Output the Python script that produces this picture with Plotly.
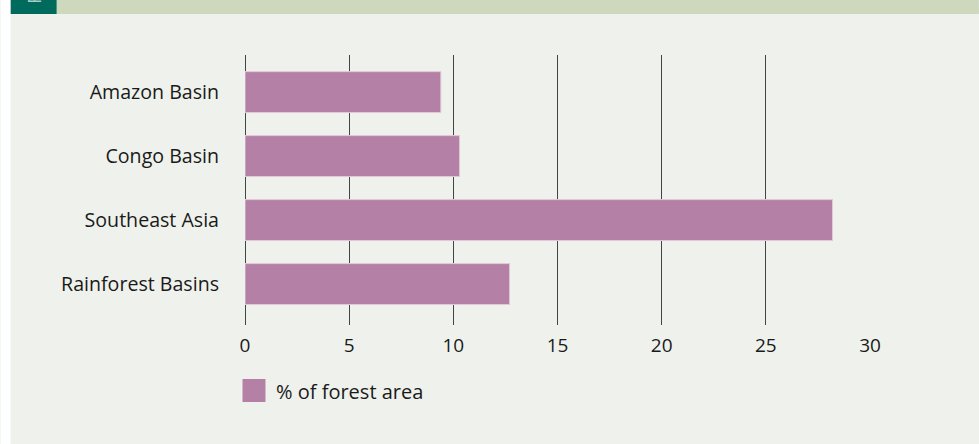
import plotly.graph_objects as go

regions = ["Amazon Basin", "Congo Basin", "Southeast Asia", "Rainforest Basins"]
forest_pct = [9.4, 10.3, 28.2, 12.7]
x_ticks = [0, 5, 10, 15, 20, 25, 30]
legend_label = "% of forest area"

W, H = 979, 444
L, R, T, B = 244.5, 870, 55, 325

def px(x):
    return (x - L) / (R - L)

def py(y):
    return (B - y) / (B - T)

BG = "#EFF2EC"
BAR = "#B580A5"
FONT = "Open Sans"

fig = go.Figure()
fig.add_trace(go.Bar(
    y=regions, x=forest_pct, orientation="h",
    marker=dict(color=BAR, line=dict(color="#E2C8DA", width=1)),
    width=0.64, showlegend=False, hoverinfo="x+y",
))

shapes = [
    dict(type="rect", xref="paper", yref="paper", x0=px(0), x1=px(10), y0=py(H), y1=py(0),
         fillcolor="white", line=dict(width=0), layer="below"),
    dict(type="rect", xref="paper", yref="paper", x0=px(56), x1=px(W), y0=py(14), y1=py(0),
         fillcolor="#CED8BD", line=dict(width=0), layer="below"),
    dict(type="rect", xref="paper", yref="paper", x0=px(10), x1=px(56), y0=py(14), y1=py(0),
         fillcolor="#006A5C", line=dict(width=0), layer="below"),
    dict(type="rect", xref="paper", yref="paper", x0=px(242), x1=px(265), y0=py(402), y1=py(379),
         fillcolor=BAR, line=dict(width=0)),
]

annotations = [
    dict(text="F", xref="paper", yref="paper", x=px(33), y=py(-1), textangle=-90,
         showarrow=False, font=dict(family=FONT, size=18, color="#A8CFC5"),
         xanchor="center", yanchor="middle"),
    dict(text=legend_label, xref="paper", yref="paper", x=px(274), y=py(391),
         showarrow=False, font=dict(family=FONT, size=20, color="#1a1a1a"),
         xanchor="left", yanchor="middle"),
]

fig.update_layout(
    width=W, height=H,
    margin=dict(l=L, r=W - R, t=T, b=H - B, pad=0),
    paper_bgcolor=BG, plot_bgcolor=BG,
    font=dict(family=FONT, size=20, color="#1a1a1a"),
    shapes=shapes, annotations=annotations,
    xaxis=dict(range=[0, 30], tickvals=x_ticks, showgrid=True, gridcolor="#444444",
               gridwidth=1.2, zeroline=True, zerolinecolor="#444444", zerolinewidth=1.2,
               showline=False, ticks="", ticklabelstandoff=7, fixedrange=True,
               tickfont=dict(size=19)),
    yaxis=dict(range=[3.64, -0.58], showgrid=False, zeroline=False, showline=False,
               ticks="", ticklabelstandoff=25, fixedrange=True,
               tickfont=dict(size=19.6)),
    bargap=0.36,
)

fig.write_html("out.html", config={"displayModeBar": False},
               post_script="document.body.style.margin='0';document.body.style.padding='0';")
